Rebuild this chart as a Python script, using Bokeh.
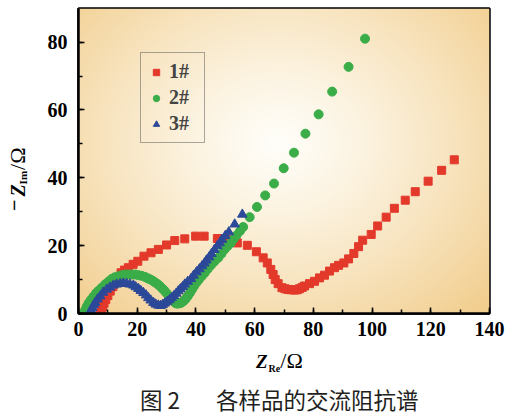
import numpy as np
from bokeh.plotting import figure
from bokeh.models import Legend, LegendItem, SingleIntervalTicker, Range1d, Div
from bokeh.layouts import row, column
from bokeh.embed import file_html
from bokeh.resources import INLINE

# ---------------- data ----------------
red_x = [7.5, 7.8, 8.2, 8.7, 9.3, 10.0, 10.8, 11.7, 12.7, 13.7, 14.5, 15.7, 17.0, 18.6,
         20.2, 22.3, 24.7, 27.2, 30.0, 32.8, 36.2, 39.9, 42.8, 47.3, 50.4, 54.1, 57.5,
         60.6, 62.9, 64.3, 65.5, 66.3, 67.0, 68.0, 69.3, 70.3, 71.3, 72.4, 73.6, 74.5,
         75.3, 76.2, 77.0, 78.7, 80.4, 82.1, 83.8, 85.5, 87.2, 88.6, 90.4, 92.0, 93.8,
         95.4, 96.8, 99.7, 101.9, 104.8, 107.6, 111.3, 114.7, 119.1, 123.7, 128.0]
red_y = [0.2, 1.0, 2.0, 3.0, 4.1, 5.3, 6.6, 7.9, 9.3, 10.6, 12.0, 12.8, 13.5, 14.5,
         15.4, 16.9, 17.9, 18.9, 20.2, 21.5, 22.0, 22.8, 22.8, 22.1, 21.8, 20.8, 20.1,
         18.2, 16.4, 14.9, 13.0, 11.5, 10.0, 8.8, 7.6, 7.3, 7.1, 7.0, 6.9, 7.0,
         7.3, 7.7, 8.1, 8.8, 9.5, 10.5, 11.3, 12.5, 13.5, 14.2, 14.9, 16.1, 17.7,
         19.7, 21.6, 23.3, 25.8, 28.4, 31.0, 33.4, 35.9, 39.0, 42.2, 45.3]

green_x = [2.0, 2.3, 2.8, 3.4, 4.2, 5.1, 6.0, 6.8, 7.9, 9.1, 10.2, 11.3, 12.4, 13.6,
           14.8, 15.9, 17.0, 18.1, 19.3, 20.4, 21.5, 22.6, 23.5, 24.3, 25.2, 26.0, 26.9,
           27.7, 28.5, 29.2, 30.0, 30.8, 31.6, 32.3, 33.0, 33.6, 34.4, 35.1, 35.8, 36.5,
           37.2, 37.9, 38.6, 39.4, 40.2, 41.0, 42.0, 43.0, 44.0, 45.1, 46.3, 47.6, 48.7,
           49.8, 50.8, 51.9, 52.8, 53.8, 55.0, 56.1, 58.3, 60.8, 63.6, 66.6, 69.9, 73.4,
           77.3, 81.8, 86.4, 92.0, 97.6]
green_y = [0.3, 1.0, 2.0, 3.0, 4.0, 5.0, 6.0, 6.7, 7.6, 8.6, 9.4, 10.2, 10.7, 11.0,
           11.3, 11.5, 11.5, 11.5, 11.5, 11.3, 11.1, 10.8, 10.4, 10.1, 9.7, 9.2, 8.7,
           8.1, 7.4, 6.8, 6.0, 5.1, 4.3, 3.6, 3.1, 2.9, 3.0, 3.2, 3.7, 4.3,
           5.1, 6.0, 7.0, 8.1, 9.1, 10.0, 11.0, 12.0, 13.1, 14.2, 15.3, 16.4, 17.6,
           18.9, 19.9, 20.8, 21.9, 23.0, 24.3, 25.5, 28.4, 31.4, 34.8, 38.3, 42.8, 47.4,
           53.0, 58.7, 65.4, 72.7, 81.0]

blue_x = [4.0, 4.3, 4.7, 5.2, 5.7, 6.5, 7.4, 8.4, 9.6, 10.7, 11.9, 13.0, 14.2, 15.3,
          16.4, 17.5, 18.7, 19.5, 20.4, 21.2, 22.1, 23.0, 23.8, 24.6, 25.5, 26.3, 27.2,
          28.0, 28.7, 29.4, 30.2, 31.0, 31.7, 32.5, 33.3, 34.0, 34.7, 35.5, 36.2, 37.2,
          38.3, 39.2, 40.2, 41.2, 42.1, 42.9, 43.6, 44.5, 45.3, 46.3, 47.3, 48.1, 48.9,
          50.0, 51.2, 53.2, 55.8]
blue_y = [0.4, 1.0, 1.7, 2.5, 3.2, 4.2, 5.1, 6.2, 7.1, 7.7, 8.3, 8.6, 8.8, 8.9,
          8.8, 8.6, 8.3, 7.8, 7.3, 6.7, 6.1, 5.4, 4.6, 3.9, 3.2, 2.7, 2.4,
          2.3, 2.6, 3.0, 3.5, 4.0, 4.6, 5.2, 5.9, 6.6, 7.2, 7.9, 8.6, 9.4,
          10.2, 11.2, 12.2, 13.1, 14.0, 14.8, 15.7, 16.6, 17.6, 18.8, 19.9, 20.8, 21.8,
          22.9, 24.0, 26.3, 29.2]

series_labels = ["1#", "2#", "3#"]
tick_interval = 20
x_max, y_max = 140, 89.9

RED, GREEN, BLUE = "#e3392b", "#3aad48", "#2c4898"
SERIF = "Liberation Serif"

p = figure(width=486, height=350, output_backend="svg", toolbar_location=None,
           x_range=Range1d(0, x_max), y_range=Range1d(0, y_max),
           min_border_left=48, min_border_right=27, min_border_top=8, min_border_bottom=37,
           background_fill_color="#fdf3e0", border_fill_color="white")

# radial cream gradient background of the plot area
nx, ny = 411, 305
u = (np.arange(nx) + 0.5) / nx
v = (np.arange(ny) + 0.5) / ny
U, V = np.meshgrid(u, v)
d = np.sqrt(((U - 0.485) / 0.70) ** 2 + ((V - 0.56) / 0.78) ** 2)
t = np.clip(d, 0, 1) ** 1.2
c0 = np.array([255, 254, 249])
c1 = np.array([242, 206, 142])
img = np.empty((ny, nx), dtype=np.uint32)
view = img.view(dtype=np.uint8).reshape((ny, nx, 4))
for k in range(3):
    view[:, :, k] = (c0[k] + (c1[k] - c0[k]) * t).astype(np.uint8)
view[:, :, 3] = 255
p.image_rgba(image=[img], x=0, y=0, dw=x_max, dh=y_max)

r1 = p.scatter(red_x, red_y, marker="square", size=8, fill_color=RED, line_color=RED)
r2 = p.scatter(green_x, green_y, marker="circle", size=9, fill_color=GREEN, line_color=GREEN)
r3 = p.scatter(blue_x, blue_y, marker="triangle", size=9.5, fill_color=BLUE, line_color=BLUE)

p.grid.visible = False
p.outline_line_color = "black"
p.outline_line_width = 2.5
p.outline_line_alpha = 1.0

for ax in (p.xaxis[0], p.yaxis[0]):
    ax.ticker = SingleIntervalTicker(interval=tick_interval, num_minor_ticks=2)
    ax.axis_line_width = 2.5
    ax.axis_line_color = "black"
    ax.major_tick_in = 6
    ax.major_tick_out = 0
    ax.minor_tick_in = 4
    ax.minor_tick_out = 0
    ax.major_tick_line_width = 1.5
    ax.minor_tick_line_width = 1.5
    ax.major_tick_line_color = "black"
    ax.minor_tick_line_color = "black"
    ax.major_label_text_font = SERIF
    ax.major_label_text_font_style = "bold"
    ax.major_label_text_font_size = "20px"
    ax.major_label_text_color = "black"
p.xaxis.major_label_standoff = 8
p.yaxis.major_label_standoff = 11

legend = Legend(items=[LegendItem(label=series_labels[0], renderers=[r1]),
                       LegendItem(label=series_labels[1], renderers=[r2]),
                       LegendItem(label=series_labels[2], renderers=[r3])],
                location=(62, 170), orientation="vertical")
legend.label_text_font = SERIF
legend.label_text_font_style = "bold"
legend.label_text_font_size = "20px"
legend.glyph_width = 16
legend.glyph_height = 20
legend.label_height = 20
legend.label_width = 28
legend.label_standoff = 5
legend.spacing = 3
legend.padding = 7
legend.margin = 0
legend.border_line_color = "#555555"
legend.border_line_width = 1.2
legend.background_fill_alpha = 0
p.add_layout(legend)

# ---- y-axis title (rotated):  −Z_Im/Ω ----
ytitle_html = (
    '<div style="position:relative;width:30px;height:416px;">'
    '<div style="position:absolute;left:8px;top:211px;transform:rotate(-90deg);'
    'transform-origin:0 0;white-space:nowrap;font-family:\'Liberation Serif\';'
    'font-size:20px;line-height:20px;color:#000;">'
    '<span style="position:relative;top:-4px;padding-right:3px;font-weight:bold;">−</span>'
    '<span style="font-weight:bold;font-style:italic;">Z</span>'
    '<span style="font-size:11px;font-weight:bold;position:relative;top:2px;padding-right:1px;">Im</span>'
    '<span style="font-size:22px;">/Ω</span>'
    '</div></div>'
)
ydiv = Div(text=ytitle_html, width=30, height=416, margin=0, disable_math=True)

# ---- x-axis title and caption ----
bottom_html = (
    '<div style="position:relative;width:486px;height:66px;">'
    '<div style="position:absolute;left:226px;top:1px;white-space:nowrap;'
    'font-family:\'Liberation Serif\';font-size:19px;line-height:19px;color:#000;">'
    '<span style="font-weight:bold;font-style:italic;">Z</span>'
    '<span style="font-size:10px;font-weight:bold;position:relative;top:4px;padding-left:1px;">Re</span>'
    '<span style="font-size:22px;">/Ω</span>'
    '</div>'
    '<div style="position:absolute;left:110px;top:38px;white-space:nowrap;'
    'font-family:\'Noto Sans CJK SC\';font-size:22.5px;line-height:22.5px;color:#231f20;">'
    '图 2<span style="font-size:18px;">　　</span>各样品的交流阻抗谱'
    '</div></div>'
)
bdiv = Div(text=bottom_html, width=486, height=66, margin=0, disable_math=True)

layout = row(ydiv, column(p, bdiv, spacing=0), spacing=0)

open("out.html", "w").write(file_html(layout, INLINE))
